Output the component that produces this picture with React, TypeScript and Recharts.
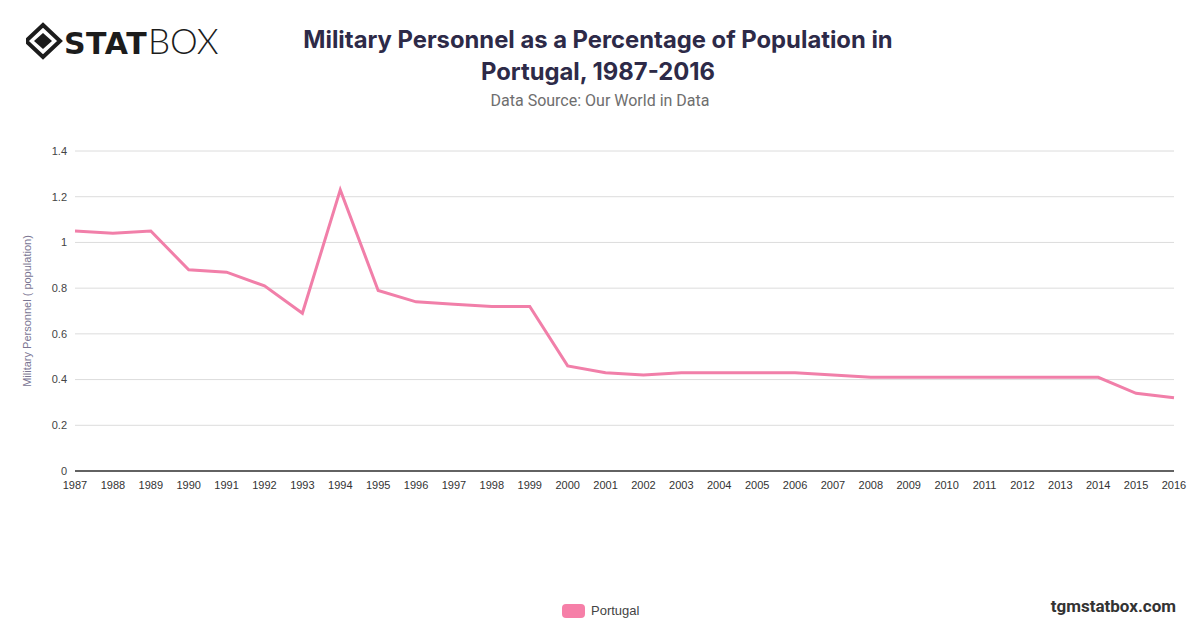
import React from "react";
import { LineChart, Line, XAxis, YAxis, CartesianGrid } from "recharts";

const years = [
  "1987", "1988", "1989", "1990", "1991", "1992", "1993", "1994", "1995", "1996",
  "1997", "1998", "1999", "2000", "2001", "2002", "2003", "2004", "2005", "2006",
  "2007", "2008", "2009", "2010", "2011", "2012", "2013", "2014", "2015", "2016",
];
const portugal = [
  1.05, 1.04, 1.05, 0.88, 0.87, 0.81, 0.69, 1.23, 0.79, 0.74,
  0.73, 0.72, 0.72, 0.46, 0.43, 0.42, 0.43, 0.43, 0.43, 0.43,
  0.42, 0.41, 0.41, 0.41, 0.41, 0.41, 0.41, 0.41, 0.34, 0.32,
];
const yTicks = [0, 0.2, 0.4, 0.6, 0.8, 1, 1.2, 1.4];

const LINE_COLOR = "#f17fa9";

const data = years.map((y, i) => ({ year: y, value: portugal[i] }));

function Logo() {
  return (
    <svg width={240} height={56} style={{ position: "absolute", left: 26, top: 14 }}>
      <g transform="translate(17,27)">
        <polygon points="0,-16 17,0 0,16 -17,0" fill="none" stroke="#1c1c1c" strokeWidth={4} />
        <polygon points="0,-8 9,0 0,8 -9,0" fill="#1c1c1c" />
      </g>
      <text x={38} y={40} fontFamily="DejaVu Sans, sans-serif" fontWeight={900} fontSize={30} fill="#1c1c1c" letterSpacing={0.5}>
        STAT
      </text>
      <text x={122} y={40} fontFamily="Lato, sans-serif" fontWeight={300} fontSize={35} fill="#1c1c1c">
        BOX
      </text>
    </svg>
  );
}

export default function App() {
  return (
    <div style={{ position: "absolute", left: 0, top: 0, width: 1200, height: 628, background: "#fff", fontFamily: "Liberation Sans, Arial, sans-serif" }}>
      <Logo />
      <div style={{ position: "absolute", left: 0, width: 1196, top: 24, textAlign: "center", fontFamily: "Inter, sans-serif", fontWeight: 700, fontSize: 23.8, lineHeight: "32px", color: "#2d2a48" }}>
        Military Personnel as a Percentage of Population in
        <br />
        Portugal, 1987-2016
      </div>
      <div style={{ position: "absolute", left: 0, width: 1200, top: 91, textAlign: "center", fontFamily: "Roboto, sans-serif", fontSize: 16, color: "#6e6e6e" }}>
        Data Source: Our World in Data
      </div>
      <div style={{ position: "absolute", left: 0, top: 0 }}>
        <LineChart width={1200} height={628} data={data} margin={{ top: 151, right: 26, left: 30, bottom: 127 }}>
          <CartesianGrid vertical={false} stroke="#dcdcdc" />
          <XAxis
            dataKey="year"
            interval={0}
            tickLine={false}
            axisLine={{ stroke: "#333", strokeWidth: 1.5 }}
            tick={{ fontSize: 11, fill: "#333" }}
            height={30}
            tickMargin={4}
          />
          <YAxis
            domain={[0, 1.4]}
            ticks={yTicks}
            axisLine={false}
            tickLine={false}
            width={45}
            tick={{ fontSize: 11, fill: "#444" }}
            label={{
              value: "Military Personnel ( population)",
              angle: -90,
              position: "insideLeft",
              offset: -3,
              style: { textAnchor: "middle", fontSize: 11, fill: "#7a7592" },
            }}
          />
          <Line
            type="linear"
            dataKey="value"
            stroke={LINE_COLOR}
            strokeWidth={3}
            dot={false}
            isAnimationActive={false}
          />
        </LineChart>
      </div>
      <div style={{ position: "absolute", left: 562, top: 603, display: "flex", alignItems: "center", fontSize: 13, color: "#444" }}>
        <span style={{ display: "inline-block", width: 23, height: 14, borderRadius: 4, background: "#f67fa8", marginRight: 6 }} />
        Portugal
      </div>
      <div style={{ position: "absolute", right: 24, top: 596, fontFamily: "Roboto, sans-serif", fontWeight: 700, fontSize: 17, color: "#333" }}>
        tgmstatbox.com
      </div>
    </div>
  );
}
